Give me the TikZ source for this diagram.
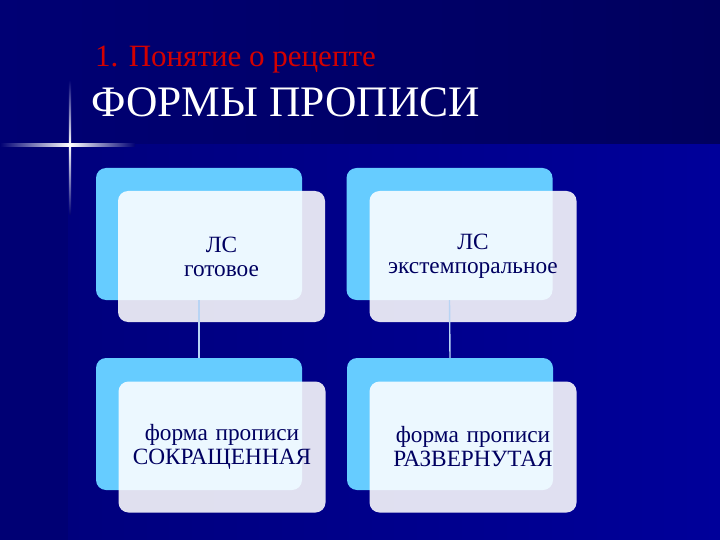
\documentclass[tikz,border=0pt]{standalone}
\usepackage{xcolor}
\usepackage{fontspec}
\setmainfont{Liberation Serif}
\usepackage{tikz}

\definecolor{slidetop}{HTML}{000074}
\definecolor{slidetopright}{HTML}{00005E}
\definecolor{slidedark}{HTML}{00007A}
\definecolor{slideblue}{HTML}{00009A}
\definecolor{cardblue}{HTML}{66CCFF}
\definecolor{cardtext}{HTML}{000060}
\definecolor{titlered}{HTML}{D40000}
\definecolor{linkblue}{HTML}{B8D4F4}

\begin{document}
\begin{tikzpicture}[x=1pt, y=-1pt,
    back/.style={rectangle, rounded corners=10pt, fill=cardblue, minimum width=206pt, minimum height=132pt, inner sep=0pt},
    front/.style={rectangle, rounded corners=10pt, fill=white, fill opacity=0.88, text opacity=1, minimum width=207pt, minimum height=131pt, inner sep=0pt, text width=204pt, align=center, text=cardtext, font=\fontsize{23.3}{24}\selectfont},
    link/.style={draw=linkblue, line width=1.4pt}]
    \useasboundingbox (0,0) rectangle (720,540);

    % Background
    \shade[left color=slidetop, right color=slidetopright] (0,0) rectangle (720,145);
    \shade[left color=slidedark, right color=slideblue] (0,145) rectangle (720,540);
    \fill[slidetop] (0,145) rectangle (68,540);

    % Flare
    \shade[left color=slidetop, right color=white] (0,144) rectangle (70,146.5);
    \shade[left color=white, right color=slidetop] (70,144) rectangle (135,146.5);
    \shade[top color=slidetop, bottom color=white] (68.8,80) rectangle (71.2,145);
    \shade[top color=white, bottom color=slidetop] (68.8,145) rectangle (71.2,215);
    \fill[white] (70,145.2) circle (2pt);

    % Titles
    \node[anchor=base west, inner sep=0pt, text=titlered, font=\fontsize{31}{34}\selectfont] (topic) at (95,67) {1. Понятие о рецепте};
    \node[anchor=base west, inner sep=0pt, text=white, font=\fontsize{43.5}{50}\selectfont] (heading) at (91,117) {ФОРМЫ ПРОПИСИ};

    % Back cards
    \node[back] (readyback) at (199,234) {};
    \node[back] (extempback) at (449.5,234) {};
    \node[back] (shortback) at (199,424) {};
    \node[back] (fullback) at (450,424) {};

    % Front cards
    \node[front] (ready) at (221.5,256.5) {ЛС\\ готовое};
    \node[front] (extemp) at (473,256.5) {ЛС\\ экстемпоральное};
    \node[front] (short) at (222,447) {форма прописи\\ СОКРАЩЕННАЯ};
    \node[front] (full) at (473,447) {форма прописи\\ РАЗВЕРНУТАЯ};

    % Edges
    \draw[link] (readyback.south) -- (shortback.north);
    \draw[link] (extempback.south) -- (fullback.north);
\end{tikzpicture}
\end{document}
